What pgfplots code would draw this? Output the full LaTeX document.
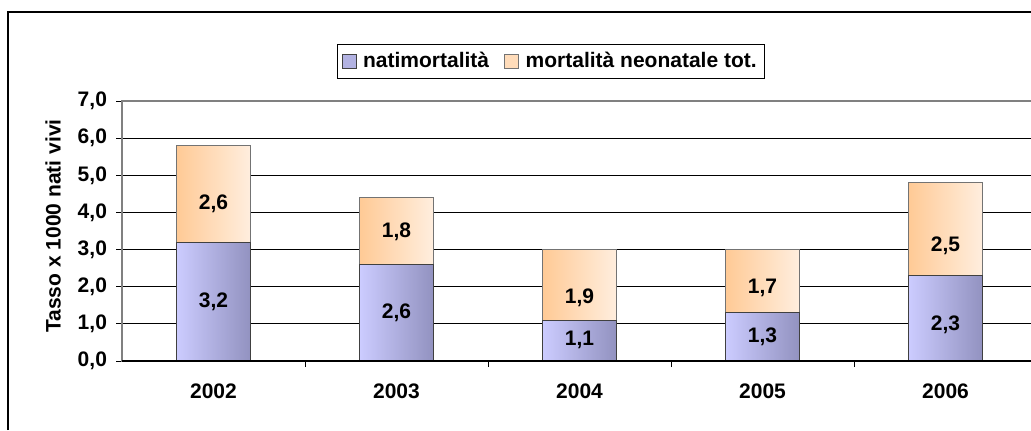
\documentclass[border=0pt]{standalone}
\usepackage{fontspec}
\setmainfont{Liberation Sans}
\usepackage{pgfplots}
\usepackage{pgfplotstable}
\pgfplotsset{compat=1.18}

\definecolor{bluL}{RGB}{204,204,255}
\definecolor{bluR}{RGB}{146,146,192}
\definecolor{bluM}{RGB}{178,178,226}
\definecolor{orL}{RGB}{255,202,150}
\definecolor{orR}{RGB}{255,238,222}
\definecolor{orM}{RGB}{255,220,186}

% tassi per 1000 nati vivi (tot = natimortalita + neonatale)
\pgfplotstableread{
x nati neo tot
0 3.2 2.6 5.8
1 2.6 1.8 4.4
2 1.1 1.9 3.0
3 1.3 1.7 3.0
4 2.3 2.5 4.8
}\tassi

% posizione delle etichette dentro le barre
\pgfplotstableread{
x y lab
0 1.60 3,2
1 1.31 2,6
2 0.57 1,1
3 0.65 1,3
4 0.97 2,3
0 4.23 2,6
1 3.48 1,8
2 1.71 1,9
3 1.98 1,7
4 3.10 2,5
}\etichette

\begin{document}
\begin{tikzpicture}[font=\fontsize{10.5}{12}\selectfont\bfseries]
\clip (0,0) rectangle (515.5pt,215pt);
\draw[line width=0.8pt] (4pt,0) -- (4pt,209pt) -- (520pt,209pt);

\begin{axis}[
    at={(61pt,34.5pt)}, anchor=south west,
    scale only axis, width=457.5pt, height=130pt,
    xmin=-0.5, xmax=4.5, ymin=0, ymax=7,
    ybar, bar width=37pt, bar shift=0pt,
    xtick={0,...,4},
    xticklabels={2002,2003,2004,2005,2006},
    x tick style={draw=none},
    extra x ticks={0.5,1.5,2.5,3.5},
    extra x tick labels={},
    extra x tick style={x tick style={draw=black, line width=0.5pt}},
    xticklabel style={yshift=-5pt},
    ytick={0,...,7},
    y tick style={black, line width=0.5pt},
    tick pos=left,
    tick align=outside, major tick length=3pt,
    yticklabel style={xshift=-1pt, /pgf/number format/.cd, fixed, fixed zerofill, precision=1, use comma, assume math mode=true},
    ymajorgrids, grid style={black, line width=0.5pt},
    axis line style={draw=gray, line width=0.9pt},
    ylabel={Tasso x 1000 nati vivi},
    every axis y label/.style={at={(axis description cs:-0.0754,0.519)}, rotate=90, anchor=center},
    legend columns=2,
    legend style={at={(axis description cs:0.469,1.152)}, anchor=center,
        draw=black, line width=0.6pt, inner xsep=2pt, inner ysep=2pt,
        cells={anchor=west},
        /tikz/every odd column/.append style={column sep=1.3pt},
        /tikz/every even column/.append style={column sep=5.5pt}},
    legend image code/.code={\draw[#1, line width=0.5pt] (0pt,-3.5pt) rectangle (7pt,3.5pt);},
]
% parte arancione: barra intera, poi coperta in basso da quella blu
\pgfplotsinvokeforeach{0,...,4}{
  \addplot[forget plot, draw=black!55, line width=0.5pt, left color=orL, right color=orR,
    restrict x to domain=#1:#1] table[x=x, y=tot] {\tassi};
}
\pgfplotsinvokeforeach{0,...,4}{
  \addplot[forget plot, draw=black!75, line width=0.5pt, left color=bluL, right color=bluR,
    restrict x to domain=#1:#1] table[x=x, y=nati] {\tassi};
}
\addlegendimage{draw=black!75, fill=bluM}
\addlegendentry{natimortalità}
\addlegendimage{draw=black!55, fill=orM}
\addlegendentry{mortalità neonatale tot.}
\draw[black, line width=0.6pt] (rel axis cs:0,0) -- (rel axis cs:1,0);
\end{axis}

\begin{axis}[
    at={(61pt,34.5pt)}, anchor=south west,
    scale only axis, width=457.5pt, height=130pt,
    xmin=-0.5, xmax=4.5, ymin=0, ymax=7,
    hide axis, clip=false,
]
\addplot[draw=none, mark=none, nodes near coords, point meta=explicit symbolic,
    every node near coord/.append style={anchor=center, inner sep=0pt}]
    table[x=x, y=y, meta=lab] {\etichette};
\end{axis}
\end{tikzpicture}
\end{document}
